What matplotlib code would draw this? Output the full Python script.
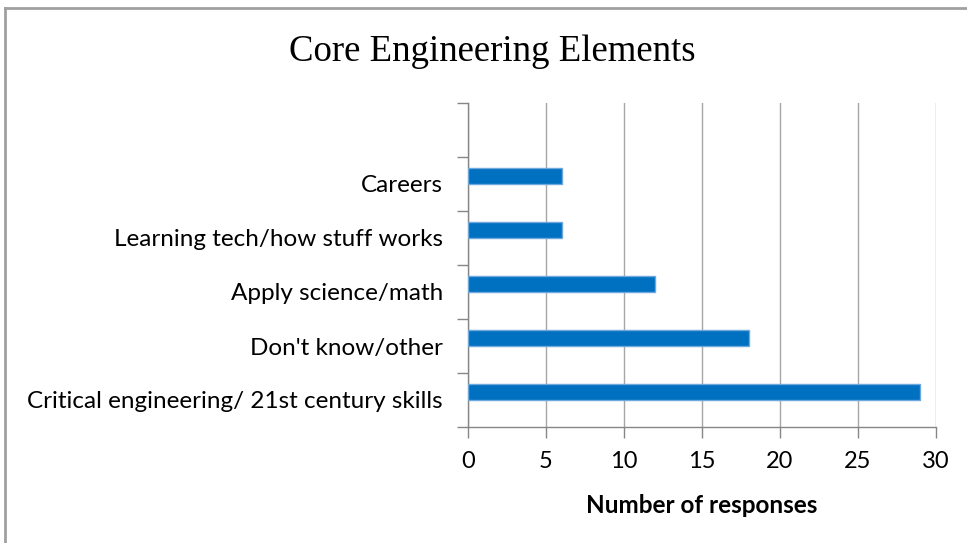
import matplotlib
matplotlib.use("Agg")
import matplotlib.pyplot as plt
from matplotlib.lines import Line2D

categories = ["Critical engineering/ 21st century skills", "Don't know/other",
              "Apply science/math", "Learning tech/how stuff works", "Careers"]
values = [29, 18, 12, 6, 6]
xticks = [0, 5, 10, 15, 20, 25, 30]
title = "Core Engineering Elements"
xlabel = "Number of responses"

W, H = 967, 543
fig = plt.figure(figsize=(W / 100, H / 100), dpi=100)
ax = fig.add_axes([468 / W, 1 - 427 / H, (936 - 468) / W, (427 - 103) / H])

pos = [i + 0.15 for i in range(len(categories))]
ax.barh(pos, values, height=0.29, color="#0070C0", edgecolor="#6FA8DC", linewidth=1, zorder=3)

ax.set_xlim(0, 30)
ax.set_ylim(-0.5, 5.5)
ax.set_xticks(xticks)
ax.set_xticklabels([str(t) for t in xticks], fontsize=17, family="Lato")
ax.set_yticks([i - 0.5 for i in range(7)])
ax.set_yticklabels([])
ax.set_yticks(range(len(categories)), minor=True)
ax.set_yticklabels(categories, minor=True, fontsize=17.5, family="Lato")
ax.tick_params(axis="y", which="minor", length=0, pad=18)
ax.tick_params(axis="y", which="major", length=8, color="#868686", width=1)
ax.tick_params(axis="x", length=8, color="#868686", width=1, pad=9)

ax.grid(axis="x", color="#A6A6A6", linewidth=1, zorder=0)
for s in ["top", "right"]:
    ax.spines[s].set_visible(False)
for s in ["left", "bottom"]:
    ax.spines[s].set_color("#868686")
    ax.spines[s].set_linewidth(1)

ax.set_xlabel(xlabel, fontsize=17.5, family="Lato", fontweight="bold", labelpad=16)
fig.text(492 / W, 1 - 52 / H, title, fontsize=26.5, family="Liberation Serif",
         ha="center", va="center")

# outer frame (left and top)
fig.add_artist(Line2D([5 / W, 5 / W], [0, 1 - 8 / H], color="#A0A0A0", linewidth=2))
fig.add_artist(Line2D([5 / W, 1], [1 - 8 / H, 1 - 8 / H], color="#A0A0A0", linewidth=2))

fig.savefig("out.png", dpi=100)
